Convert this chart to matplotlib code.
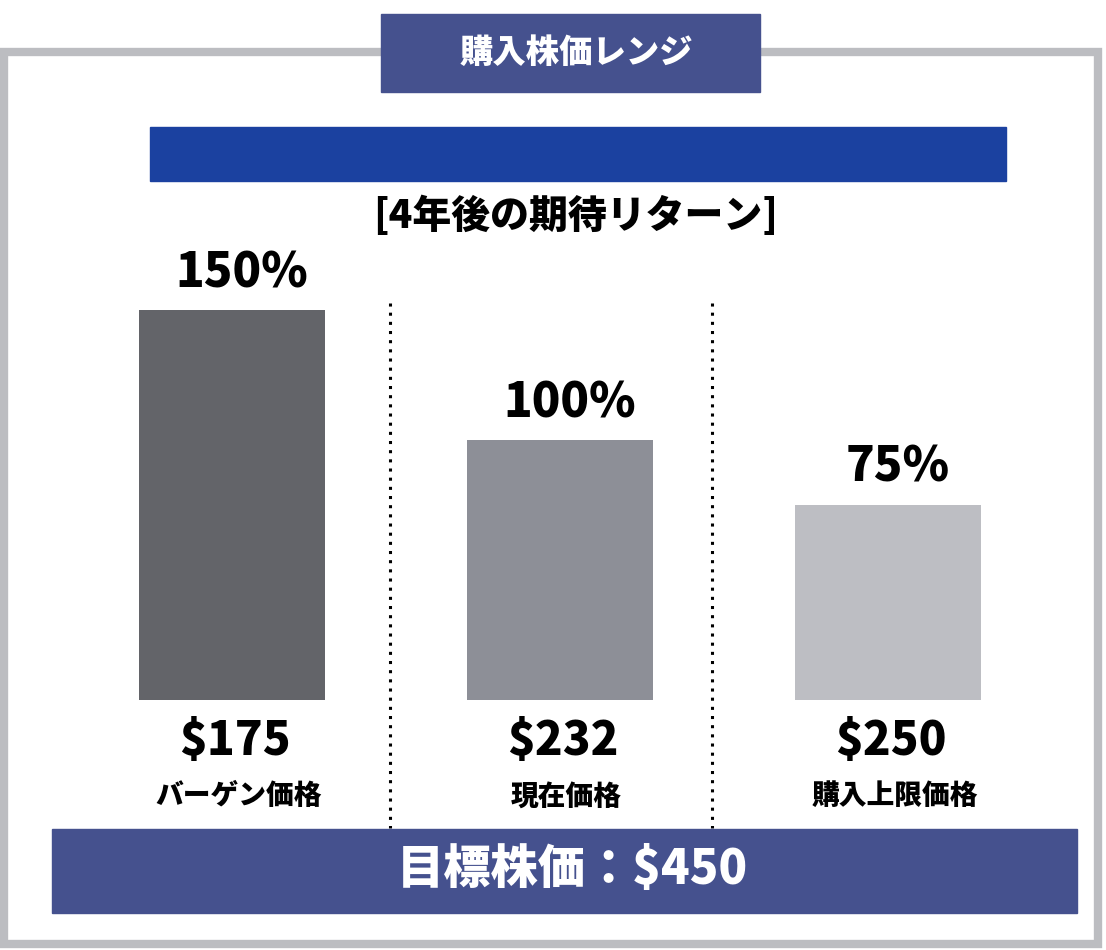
import matplotlib
matplotlib.use('Agg')
import matplotlib.pyplot as plt
from matplotlib.patches import Rectangle

plt.rcParams['font.family'] = ['Noto Sans CJK JP', 'DejaVu Sans']

# chart data
categories = ['バーゲン価格', '現在価格', '購入上限価格']
prices = ['$175', '$232', '$250']
returns = [150, 100, 75]
bar_colors = ['#636469', '#8D8F97', '#BDBEC3']
title = '購入株価レンジ'
subtitle = '[4年後の期待リターン]'
target = '目標株価：$450'

W, H = 1106, 950
fig = plt.figure(figsize=(W / 100, H / 100), dpi=100)
fig.patch.set_facecolor('white')

# overlay axes in pixel coordinates for the frame and banners
deco = fig.add_axes([0, 0, 1, 1])
deco.set_xlim(0, W)
deco.set_ylim(H, 0)
deco.axis('off')

deco.add_patch(Rectangle((4, 52), 1094, 892, fill=False,
                         edgecolor='#BCBDC1', linewidth=6))
deco.add_patch(Rectangle((381, 14), 379, 78, color='#45518E', zorder=3))
deco.text(576, 52, title, color='white', fontsize=24, fontweight='black',
          ha='center', va='center', zorder=4)
deco.add_patch(Rectangle((150, 127), 856, 54, color='#1B41A0'))
deco.text(576, 216, subtitle, color='black', fontsize=28, fontweight='black',
          ha='center', va='center')

for xd in (390, 712):
    deco.plot([xd, xd], [303, 828], color='black', linewidth=2.2,
              linestyle=(0, (1, 2)))

deco.add_patch(Rectangle((52, 829), 1025, 84, color='#45518E', zorder=3))
deco.text(572, 870, target, color='white', fontsize=34, fontweight='black',
          ha='center', va='center', zorder=4)

# bar axes: bottom at y=700px, 2.6 px per percent
px_per_unit = 2.6
ax_h = 160 * px_per_unit
ax = fig.add_axes([68 / W, (H - 700) / H, 984 / W, ax_h / H])
ax.set_xlim(-0.5, 2.5)
ax.set_ylim(0, 160)
ax.axis('off')

x = range(len(categories))
ax.bar(x, returns, width=0.57, color=bar_colors)

for i, (r, p, c) in enumerate(zip(returns, prices, categories)):
    ax.text(i + 0.03, r + 5, f'{r}%', fontsize=34, fontweight='black',
            ha='center', va='bottom', clip_on=False)
    ax.text(i + 0.01, -16, p, fontsize=33, fontweight='black',
            ha='center', va='center', clip_on=False)
    ax.text(i + 0.02, -37, c, fontsize=20, fontweight='black',
            ha='center', va='center', clip_on=False)

plt.savefig('out.png', dpi=100, facecolor='white')
plt.close()
